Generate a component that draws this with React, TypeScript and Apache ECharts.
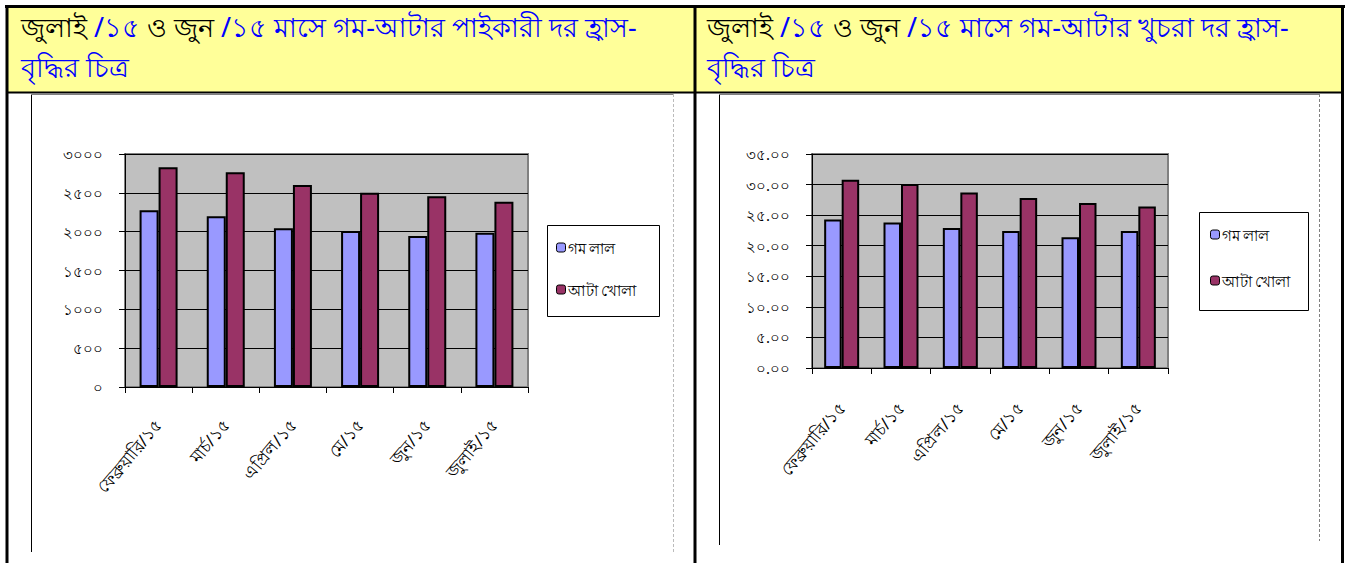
import React, { useEffect, useRef } from "react";
import * as echarts from "echarts";

const categories = ["ফেব্রুয়ারি/১৫", "মার্চ/১৫", "এপ্রিল/১৫", "মে/১৫", "জুন/১৫", "জুলাই/১৫"];
const seriesNames = ["গম লাল", "আটা খোলা"];

// পাইকারী (wholesale)
const wholesaleWheat = [2275, 2200, 2045, 2010, 1945, 1985];
const wholesaleAtta = [2830, 2765, 2600, 2500, 2455, 2385];
const wholesaleTicks = ["০", "৫০০", "১০০০", "১৫০০", "২০০০", "২৫০০", "৩০০০"];

// খুচরা (retail)
const retailWheat = [24.3, 23.8, 22.9, 22.4, 21.4, 22.4];
const retailAtta = [30.8, 30.1, 28.7, 27.8, 27.0, 26.4];
const retailTicks = ["০.০০", "৫.০০", "১০.০০", "১৫.০০", "২০.০০", "২৫.০০", "৩০.০০", "৩৫.০০"];

const BLUE = "#9999FF";
const MAROON = "#993366";
const FONT = "'Noto Sans', 'DejaVu Sans', sans-serif";

function titleRich(kind: string) {
  return {
    text: `{k|জুলাই} {b|/১৫} {k|ও জুন} {b|/১৫ মাসে গম-আটার ${kind} দর হ্রাস-}\n{b|বৃদ্ধির চিত্র}`,
    rich: {
      k: { fill: "#000000", fontSize: 27, fontFamily: FONT, lineHeight: 40 },
      b: { fill: "#0000FF", fontSize: 27, fontFamily: FONT, lineHeight: 40 },
    },
  };
}

export default function App() {
  const ref = useRef<HTMLDivElement>(null);
  useEffect(() => {
    if (!ref.current) return;
    const chart = echarts.init(ref.current, undefined, { renderer: "svg" });

    const yAxisCommon = (max: number, interval: number, ticks: string[]) => ({
      type: "value" as const,
      min: 0,
      max,
      interval,
      axisLine: { show: true, lineStyle: { color: "#000", width: 1 } },
      axisTick: { show: true, inside: false, length: 6, lineStyle: { color: "#000" } },
      splitLine: { show: true, lineStyle: { color: "#000", width: 1.2 } },
      axisLabel: {
        margin: 22,
        fontSize: 15,
        color: "#000",
        fontFamily: FONT,
        formatter: (_v: number, i: number) => ticks[i],
      },
    });

    const xAxisCommon = (gridIndex: number, margin: number) => ({
      type: "category" as const,
      gridIndex,
      data: categories,
      axisLine: { show: true, lineStyle: { color: "#000", width: 1 } },
      axisTick: { show: true, alignWithLabel: false, length: 6, lineStyle: { color: "#000" } },
      axisLabel: { rotate: 50, margin, fontSize: 17, color: "#000", fontFamily: FONT, interval: 0 },
      splitLine: { show: false },
    });

    const barCommon = {
      type: "bar" as const,
      barGap: "0%",
      itemStyle: { borderColor: "#000", borderWidth: 2 },
    };

    const line = (x1: number, y1: number, x2: number, y2: number, stroke: string, lineWidth: number, dash?: number[]) => ({
      type: "line",
      silent: true,
      shape: { x1, y1, x2, y2 },
      style: { stroke, lineWidth, lineDash: dash },
      z: 10,
    });

    const legendText = { fontSize: 15, color: "#000", fontFamily: FONT, padding: [0, 0, 0, -3] };

    chart.setOption({
      animation: false,
      backgroundColor: "#ffffff",
      grid: [
        { left: 125, top: 154, width: 403, height: 233, show: true, backgroundColor: "#C0C0C0", borderColor: "#808080", borderWidth: 2 },
        { left: 812, top: 154, width: 356, height: 214, show: true, backgroundColor: "#C0C0C0", borderColor: "#808080", borderWidth: 2 },
      ],
      xAxis: [xAxisCommon(0, 34), xAxisCommon(1, 36)],
      yAxis: [
        { ...yAxisCommon(3000, 500, wholesaleTicks), gridIndex: 0 },
        { ...yAxisCommon(35, 5, retailTicks), gridIndex: 1 },
      ],
      legend: [
        {
          data: seriesNames,
          orient: "vertical",
          left: 556,
          top: 240,
          itemWidth: 9,
          itemHeight: 9,
          itemGap: 27,
          padding: 0,
          textStyle: legendText,
          itemStyle: { borderColor: "#000", borderWidth: 1 },
        },
        {
          data: seriesNames,
          orient: "vertical",
          left: 1210,
          top: 227,
          itemWidth: 9,
          itemHeight: 9,
          itemGap: 31,
          padding: 0,
          textStyle: legendText,
          itemStyle: { borderColor: "#000", borderWidth: 1 },
        },
      ],
      series: [
        { ...barCommon, name: seriesNames[0], xAxisIndex: 0, yAxisIndex: 0, data: wholesaleWheat, barWidth: 19, itemStyle: { ...barCommon.itemStyle, color: BLUE } },
        { ...barCommon, name: seriesNames[1], xAxisIndex: 0, yAxisIndex: 0, data: wholesaleAtta, barWidth: 19, itemStyle: { ...barCommon.itemStyle, color: MAROON } },
        { ...barCommon, name: seriesNames[0], xAxisIndex: 1, yAxisIndex: 1, data: retailWheat, barWidth: 17.5, itemStyle: { ...barCommon.itemStyle, color: BLUE } },
        { ...barCommon, name: seriesNames[1], xAxisIndex: 1, yAxisIndex: 1, data: retailAtta, barWidth: 17.5, itemStyle: { ...barCommon.itemStyle, color: MAROON } },
      ],
      graphic: [
        // yellow header cells
        { type: "rect", silent: true, shape: { x: 8, y: 8, width: 686, height: 84 }, style: { fill: "#FFFF99" }, z: 1 },
        { type: "rect", silent: true, shape: { x: 696, y: 8, width: 645, height: 84 }, style: { fill: "#FFFF99" }, z: 1 },
        // header texts
        { type: "text", silent: true, x: 21, y: 6, style: { ...titleRich("পাইকারী"), fontFamily: FONT, fontSize: 27 }, z: 5 },
        { type: "text", silent: true, x: 707, y: 6, style: { ...titleRich("খুচরা"), fontFamily: FONT, fontSize: 27 }, z: 5 },
        // table borders
        line(5, 6.5, 1345, 6.5, "#000", 3),
        line(7, 5, 7, 563, "#000", 3),
        line(695, 5, 695, 563, "#000", 3),
        line(1342.5, 5, 1342.5, 563, "#000", 3),
        line(7, 92.5, 1342, 92.5, "#000", 2),
        // chart area borders
        line(31.5, 94, 31.5, 552, "#000", 1),
        line(31, 94.5, 673, 94.5, "#808080", 1),
        line(673.5, 94, 673.5, 552, "#BBBBBB", 1, [3, 2]),
        line(719.5, 94, 719.5, 545, "#000", 1),
        line(719, 94.5, 1319, 94.5, "#808080", 1),
        line(1319.5, 94, 1319.5, 541, "#808080", 1, [3, 2]),
        // legend boxes
        { type: "rect", silent: true, shape: { x: 547.5, y: 225.5, width: 112, height: 91 }, style: { fill: "#fff", stroke: "#000", lineWidth: 1 }, z: -1 },
        { type: "rect", silent: true, shape: { x: 1199.5, y: 212.5, width: 109, height: 98 }, style: { fill: "#fff", stroke: "#000", lineWidth: 1 }, z: -1 },
      ],
    });
    return () => chart.dispose();
  }, []);

  return (
    <div
      ref={ref}
      style={{ position: "absolute", left: 0, top: 0, width: 1352, height: 563 }}
    />
  );
}
